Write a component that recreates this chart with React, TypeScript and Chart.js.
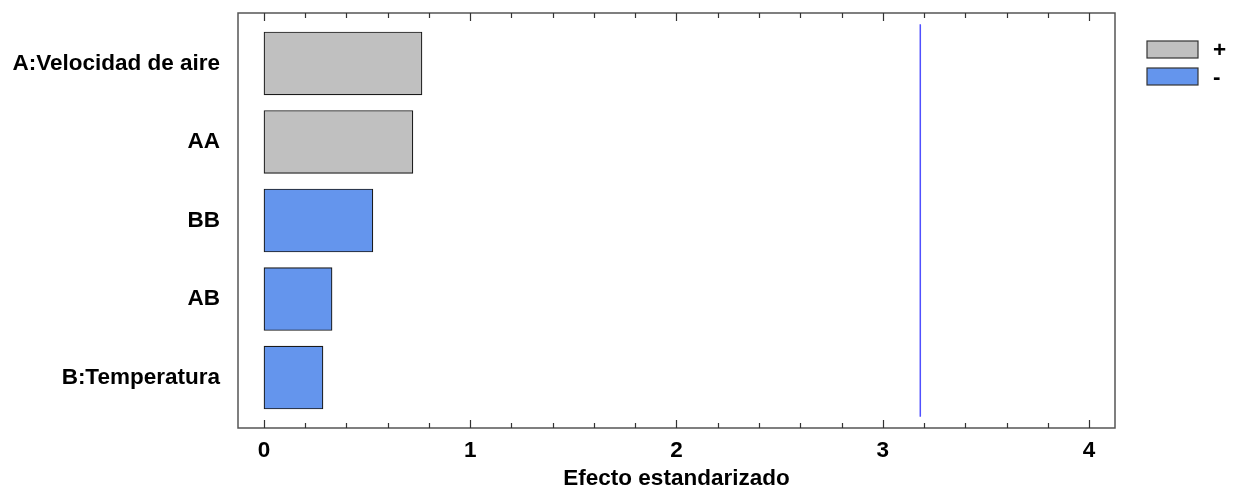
import React, { useEffect, useRef } from "react";
import { Chart, registerables } from "chart.js";

Chart.register(...registerables);

const categories = ["A:Velocidad de aire", "AA", "BB", "AB", "B:Temperatura"];
const effects = [0.766, 0.722, 0.528, 0.33, 0.286];
const signs = ["+", "+", "-", "-", "-"];
const criticalValue = 3.182;
const xTicks = [0, 1, 2, 3, 4];
const minorStep = 0.2;
const legendLabels = ["+", "-"];
const legendColors = ["#c0c0c0", "#6495ed"];

const FONT = "'Liberation Sans', Arial, sans-serif";
const FSIZE = 22.5;

const framePlugin = {
  id: "framePlugin",
  afterDraw(chart: any) {
    const { ctx, chartArea, scales } = chart;
    const { left, right, top, bottom } = chartArea;
    ctx.save();
    ctx.strokeStyle = "#555";
    ctx.lineWidth = 1.5;
    ctx.strokeRect(left, top, right - left, bottom - top);
    ctx.strokeStyle = "#333";
    ctx.lineWidth = 1.2;
    const xs = scales.x;
    const n = Math.round(xTicks[xTicks.length - 1] / minorStep);
    for (let i = 0; i <= n; i++) {
      const v = xTicks[0] + i * minorStep;
      const px = Math.round(xs.getPixelForValue(v)) + 0.5;
      const major = i % Math.round(1 / minorStep) === 0;
      const len = major ? 8 : 5;
      ctx.beginPath();
      ctx.moveTo(px, bottom);
      ctx.lineTo(px, bottom - len);
      ctx.moveTo(px, top);
      ctx.lineTo(px, top + len);
      ctx.stroke();
    }
    const bx = 1147;
    const bw = 51;
    const bh = 17;
    const y0 = 41;
    const gap = 27;
    ctx.font = `bold ${FSIZE}px ${FONT}`;
    ctx.textBaseline = "middle";
    ctx.textAlign = "left";
    legendLabels.forEach((lab, i) => {
      const y = y0 + i * gap;
      ctx.fillStyle = legendColors[i];
      ctx.fillRect(bx, y, bw, bh);
      ctx.strokeStyle = "#333";
      ctx.lineWidth = 1.2;
      ctx.strokeRect(bx, y, bw, bh);
      ctx.fillStyle = "#000";
      ctx.fillText(lab, 1213, y + bh / 2 + 1);
    });
    ctx.restore();
  },
};

export default function App() {
  const ref = useRef<HTMLCanvasElement | null>(null);

  useEffect(() => {
    if (!ref.current) return;
    const rows = categories.map((c, i) => ({ x: effects[i], y: i, s: signs[i] }));
    const pos = rows.filter((d) => d.s === "+").map((d) => ({ x: d.x, y: d.y }));
    const neg = rows.filter((d) => d.s === "-").map((d) => ({ x: d.x, y: d.y }));

    const barStyle = {
      borderColor: "#1a1a1a",
      borderWidth: 1.2,
      borderSkipped: false,
      barThickness: 63,
      grouped: false,
    };

    const chart = new Chart(ref.current, {
      type: "bar",
      data: {
        datasets: [
          {
            type: "bar",
            label: legendLabels[0],
            data: pos,
            backgroundColor: legendColors[0],
            ...barStyle,
          } as any,
          {
            type: "bar",
            label: legendLabels[1],
            data: neg,
            backgroundColor: legendColors[1],
            ...barStyle,
          } as any,
          {
            type: "line",
            label: "crit",
            data: [
              { x: criticalValue, y: -0.5 },
              { x: criticalValue, y: 4.5 },
            ],
            borderColor: "rgb(80,80,255)",
            borderWidth: 1.5,
            pointRadius: 0,
            fill: false,
          } as any,
        ],
      },
      options: {
        indexAxis: "y",
        animation: false,
        responsive: false,
        layout: { padding: { top: 13, right: 122, left: 0, bottom: 0 } },
        plugins: {
          legend: { display: false },
          tooltip: { enabled: false },
        },
        scales: {
          x: {
            type: "linear",
            min: -0.126,
            max: 4.126,
            offset: false,
            grid: { display: false, drawTicks: false },
            border: { display: false },
            afterBuildTicks: (s: any) => {
              s.ticks = xTicks.map((v) => ({ value: v }));
            },
            afterFit: (s: any) => {
              s.height = 64;
              s.paddingLeft = 0;
              s.paddingRight = 0;
            },
            ticks: {
              padding: 9,
              color: "#000",
              font: { family: FONT, size: FSIZE, weight: "bold" },
              callback: (v: any) => String(v),
            },
            title: {
              display: true,
              text: "Efecto estandarizado",
              color: "#000",
              padding: { top: 0, bottom: 0 },
              font: { family: FONT, size: FSIZE, weight: "bold" },
            },
          },
          y: {
            type: "linear",
            reverse: true,
            offset: false,
            min: -0.643,
            max: 4.643,
            grid: { display: false, drawTicks: false, offset: false },
            border: { display: false },
            afterBuildTicks: (s: any) => {
              s.ticks = categories.map((_, i) => ({ value: i }));
            },
            afterFit: (s: any) => {
              s.width = 238;
              s.paddingTop = 0;
              s.paddingBottom = 0;
            },
            ticks: {
              padding: 18,
              color: "#000",
              font: { family: FONT, size: FSIZE, weight: "bold" },
              callback: (v: any) => categories[v] ?? "",
            },
          },
        },
      } as any,
      plugins: [framePlugin],
    });
    return () => chart.destroy();
  }, []);

  return (
    <div style={{ position: "absolute", left: 0, top: 0, width: 1237, height: 492, background: "#fff" }}>
      <canvas ref={ref} width={1237} height={492} style={{ display: "block" }} />
    </div>
  );
}
